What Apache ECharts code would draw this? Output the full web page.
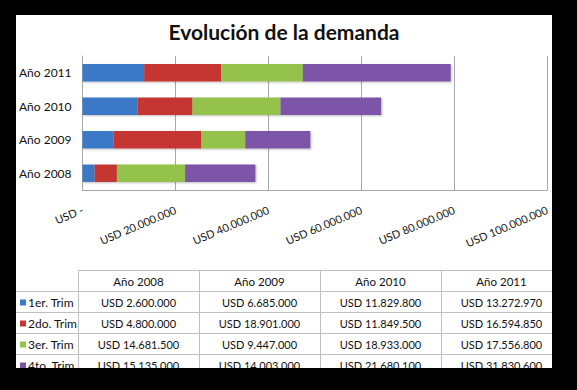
<!DOCTYPE html>
<html>
<head>
<meta charset="utf-8">
<script src="https://cdn.jsdelivr.net/npm/echarts@6/dist/echarts.min.js"></script>
<style>
  html, body { margin: 0; padding: 0; background: #000; }
  body { width: 577px; height: 390px; position: relative; overflow: hidden; }
  #chart { position: absolute; left: 16px; top: 15px; width: 536px; height: 353px; background: #fff; overflow: hidden; }
</style>
</head>
<body>
<div id="chart"></div>
<script>
const categories = ['Año 2008', 'Año 2009', 'Año 2010', 'Año 2011'];
const seriesNames = ['1er. Trim', '2do. Trim', '3er. Trim', '4to. Trim'];
const q1 = [2600000, 6685000, 11829800, 13272970];
const q2 = [4800000, 18901000, 11849500, 16594850];
const q3 = [14681500, 9447000, 18933000, 17556800];
const q4 = [15135000, 14003000, 21680100, 31830600];
const xMin = 0, xMax = 100000000, xStep = 20000000;
const colors = ['#3B78C6', '#C53633', '#94C24B', '#7C55A8'];
const allSeries = [q1, q2, q3, q4];

function usd(v) {
  if (v === 0) return 'USD -';
  return 'USD ' + String(Math.round(v)).replace(/\B(?=(\d{3})+(?!\d))/g, '.');
}

const FONT = 'Lato, "Open Sans", sans-serif';

// table layout
const colX = [1, 62, 183, 304, 425, 546];
const rowY = [255, 276.5, 297.5, 318.5, 339.5, 360.5];
const gridColor = '#C0C0C0';
const graphics = [];
// top line of header (only over data columns)
graphics.push({ type: 'line', shape: { x1: colX[1], y1: rowY[0] + 0.5, x2: 540, y2: rowY[0] + 0.5 }, style: { stroke: gridColor, lineWidth: 1 } });
for (let r = 1; r < rowY.length - 1; r++) {
  graphics.push({ type: 'line', shape: { x1: 0, y1: rowY[r], x2: 540, y2: rowY[r] }, style: { stroke: gridColor, lineWidth: 1 } });
}
for (let c = 1; c < colX.length - 1; c++) {
  graphics.push({ type: 'line', shape: { x1: colX[c] + 0.5, y1: rowY[0], x2: colX[c] + 0.5, y2: 360 }, style: { stroke: gridColor, lineWidth: 1 } });
}
// header texts
categories.forEach((cat, i) => {
  graphics.push({ type: 'text', style: { text: cat, x: (colX[i + 1] + colX[i + 2]) / 2, y: (rowY[0] + rowY[1]) / 2 + 0.5, align: 'center', verticalAlign: 'middle', font: '11.5px ' + FONT, fill: '#111' } });
});
// rows
seriesNames.forEach((name, s) => {
  const cy = (rowY[s + 1] + rowY[s + 2]) / 2 + 0.5;
  graphics.push({ type: 'rect', shape: { x: 4, y: cy - 3, width: 6, height: 6 }, style: { fill: colors[s] } });
  graphics.push({ type: 'text', style: { text: name, x: 12, y: cy, align: 'left', verticalAlign: 'middle', font: '12px ' + FONT, fill: '#111' } });
  allSeries[s].forEach((v, i) => {
    graphics.push({ type: 'text', style: { text: usd(v), x: (colX[i + 1] + colX[i + 2]) / 2, y: cy, align: 'center', verticalAlign: 'middle', font: '11px ' + FONT, fill: '#111' } });
  });
});

const chart = echarts.init(document.getElementById('chart'), null, { renderer: 'svg' });
chart.setOption({
  backgroundColor: '#fff',
  animation: false,
  title: {
    text: 'Evolución de la demanda',
    left: 'center',
    top: 1,
    textStyle: { fontFamily: FONT, fontWeight: 'bold', fontSize: 21, color: '#111' }
  },
  grid: { left: 62, right: 3, top: 41, bottom: 178, containLabel: false },
  xAxis: {
    type: 'value',
    min: xMin, max: xMax, interval: xStep,
    axisLine: { show: true, lineStyle: { color: '#A8A8A8' } },
    axisTick: { show: false },
    splitLine: { show: true, lineStyle: { color: '#A8A8A8' } },
    axisLabel: { rotate: 23, margin: 19, fontFamily: FONT, fontSize: 11, color: '#111', formatter: usd }
  },
  yAxis: {
    type: 'category',
    data: categories,
    axisLine: { show: true, lineStyle: { color: '#A8A8A8' } },
    axisTick: { show: false },
    axisLabel: { margin: 11, fontFamily: FONT, fontSize: 12, color: '#111' }
  },
  series: seriesNames.map((n, s) => ({
    name: n,
    type: 'bar',
    stack: 'total',
    barWidth: '52%',
    data: allSeries[s],
    itemStyle: { color: colors[s], shadowBlur: 2, shadowOffsetY: 1, shadowOffsetX: 1, shadowColor: 'rgba(0,0,0,0.25)' }
  })),
  graphic: graphics
});
</script>
</body>
</html>
